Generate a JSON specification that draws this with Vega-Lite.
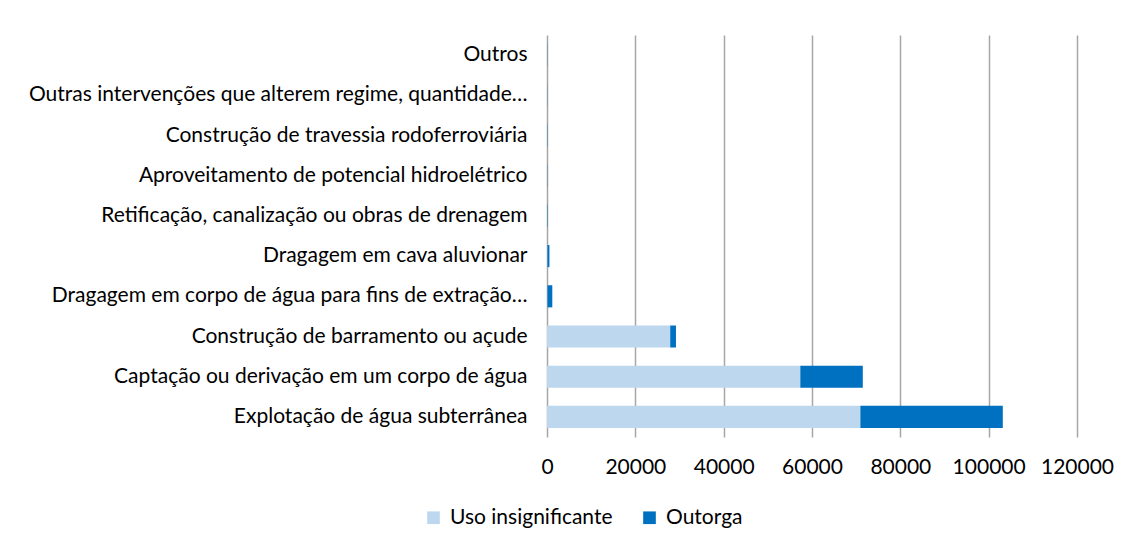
{
  "$schema": "https://vega.github.io/schema/vega-lite/v6.json",
  "width": 530,
  "height": 402,
  "autosize": {"type": "none"},
  "padding": {"left": 547, "top": 35, "right": 53, "bottom": 109},
  "background": "white",
  "config": {
    "view": {"stroke": null},
    "font": "Lato",
    "axis": {"labelFont": "Lato", "labelColor": "#000000"},
    "legend": {"labelFont": "Lato", "labelColor": "#000000"}
  },
  "data": {
    "values": [
      {"cat": "Outros", "tipo": "Uso insignificante", "n": 10},
      {"cat": "Outros", "tipo": "Outorga", "n": 40},
      {"cat": "Outras intervenções que alterem regime, quantidade…", "tipo": "Uso insignificante", "n": 5},
      {"cat": "Outras intervenções que alterem regime, quantidade…", "tipo": "Outorga", "n": 30},
      {"cat": "Construção de travessia rodoferroviária", "tipo": "Uso insignificante", "n": 10},
      {"cat": "Construção de travessia rodoferroviária", "tipo": "Outorga", "n": 60},
      {"cat": "Aproveitamento de potencial hidroelétrico", "tipo": "Uso insignificante", "n": 5},
      {"cat": "Aproveitamento de potencial hidroelétrico", "tipo": "Outorga", "n": 50},
      {"cat": "Retificação, canalização ou obras de drenagem", "tipo": "Uso insignificante", "n": 10},
      {"cat": "Retificação, canalização ou obras de drenagem", "tipo": "Outorga", "n": 90},
      {"cat": "Dragagem em cava aluvionar", "tipo": "Uso insignificante", "n": 100},
      {"cat": "Dragagem em cava aluvionar", "tipo": "Outorga", "n": 450},
      {"cat": "Dragagem em corpo de água para fins de extração…", "tipo": "Uso insignificante", "n": 100},
      {"cat": "Dragagem em corpo de água para fins de extração…", "tipo": "Outorga", "n": 1100},
      {"cat": "Construção de barramento ou açude", "tipo": "Uso insignificante", "n": 27900},
      {"cat": "Construção de barramento ou açude", "tipo": "Outorga", "n": 1300},
      {"cat": "Captação ou derivação em um corpo de água", "tipo": "Uso insignificante", "n": 57350},
      {"cat": "Captação ou derivação em um corpo de água", "tipo": "Outorga", "n": 14150},
      {"cat": "Explotação de água subterrânea", "tipo": "Uso insignificante", "n": 70950},
      {"cat": "Explotação de água subterrânea", "tipo": "Outorga", "n": 32250}
    ]
  },
  "mark": {"type": "bar"},
  "encoding": {
    "y": {
      "field": "cat",
      "type": "nominal",
      "sort": null,
      "title": null,
      "scale": {"paddingInner": 0.45, "paddingOuter": 0.225},
      "axis": {
        "domain": false,
        "ticks": false,
        "labelFontSize": 21,
        "labelPadding": 20,
        "labelLimit": 0,
        "grid": false
      }
    },
    "x": {
      "field": "n",
      "type": "quantitative",
      "aggregate": "sum",
      "stack": "zero",
      "title": null,
      "scale": {"domain": [0, 120000], "nice": false},
      "axis": {
        "values": [0, 20000, 40000, 60000, 80000, 100000, 120000],
        "format": "d",
        "domain": false,
        "ticks": false,
        "grid": true,
        "gridColor": "#a6a6a6",
        "gridWidth": 1.5,
        "labelFontSize": 21,
        "labelPadding": 19,
        "labelFlush": false,
        "labelOverlap": false
      }
    },
    "color": {
      "field": "tipo",
      "type": "nominal",
      "scale": {"domain": ["Uso insignificante", "Outorga"], "range": ["#BDD7EE", "#0070C0"]},
      "legend": {
        "title": null,
        "orient": "none",
        "direction": "horizontal",
        "legendX": -124,
        "legendY": 472,
        "symbolType": "square",
        "symbolSize": 160,
        "symbolStrokeWidth": 0,
        "labelFontSize": 21,
        "labelLimit": 0,
        "columnPadding": 26,
        "labelOffset": 6
      }
    },
    "order": {"field": "ord", "type": "quantitative"}
  }
}
